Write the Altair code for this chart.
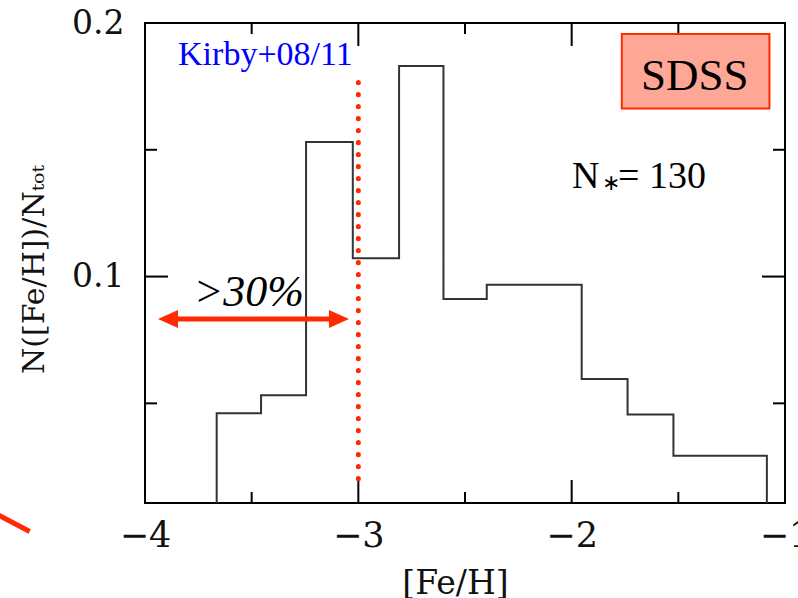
import altair as alt
import pandas as pd

# ---- data ----
bin_edges = [-3.664, -3.456, -3.245, -3.026, -2.809, -2.601, -2.398, -1.953, -1.738, -1.523, -1.085]
bin_heights = [0.0461, 0.0532, 0.1531, 0.1072, 0.1830, 0.0912, 0.0968, 0.0596, 0.0456, 0.0293]

x_domain = [-4, -1]
y_domain = [0.0107, 0.2]
x_label_values = [-4, -3, -2, -1]
y_label_values = [0.1, 0.2]
x_major_ticks = [-3, -2]
x_minor_ticks = [-3.5, -2.5, -1.5]
y_major_ticks = [0.1]
y_minor_ticks = [0.05, 0.15]

kirby_x = [-3.0]
kirby_y = [0.0203]
kirby_y2 = [0.1767]
arrow_x = [-3.939]
arrow_x2 = [-3.044]
arrow_y = [0.0833]
deco_x = [-4.727, -4.5405]
deco_y = [0.0077, -0.00055]
sdss_box_x = [-1.765]
sdss_box_x2 = [-1.073]
sdss_box_y = [0.1663]
sdss_box_y2 = [0.1957]

labels_text = ["Kirby+08/11", "SDSS", "N", "\u2217", "= 130", ">30%"]
labels_x = [-3.845, -1.423, -1.998, -1.8575, -1.7825, -3.772]
labels_y = [0.1833, 0.1734, 0.1351, 0.13415, 0.1351, 0.08855]

W, H = 640, 480
RED = "#ff2a00"

# ---- build tables ----
base = y_domain[0]
sx, sy = [bin_edges[0]], [base]
for i, h in enumerate(bin_heights):
    sx.append(bin_edges[i]); sy.append(h)
sx.append(bin_edges[-1]); sy.append(bin_heights[-1])
sx.append(bin_edges[-1]); sy.append(base)
step_df = pd.DataFrame({"x": sx, "y": sy, "o": list(range(len(sx)))})

xaxis = alt.Axis(values=x_label_values, format="d", ticks=False, tickSize=0, domain=False, grid=False,
                 labelFont="DejaVu Serif", labelFontSize=35, labelColor="#111", labelPadding=15,
                 labelOverlap=False, labelFlush=False, labelBound=False,
                 title="[Fe/H]", titleFont="DejaVu Serif", titleFontSize=33, titleFontWeight="normal",
                 titleColor="#111", titleX=310, titleY=90, titleBaseline="alphabetic", titleAlign="center")
yaxis = alt.Axis(values=y_label_values, format=".1f", ticks=False, tickSize=0, domain=False, grid=False,
                 labelFont="DejaVu Serif", labelFontSize=33, labelColor="#111", labelPadding=21,
                 labelOverlap=False, labelFlush=False, labelBound=False,
                 title="N([Fe/H])/N\u209c\u2092\u209c", titleFont="DejaVu Serif", titleFontSize=30,
                 titleFontWeight="normal", titleColor="#111", titleAngle=270,
                 titleX=-102, titleY=246, titleBaseline="alphabetic", titleAlign="center")

xs = alt.Scale(domain=x_domain, nice=False, zero=False)
ys = alt.Scale(domain=y_domain, nice=False, zero=False)

def X(f="x"):
    return alt.X(f + ":Q", scale=xs, axis=xaxis)

def Y(f="y"):
    return alt.Y(f + ":Q", scale=ys, axis=yaxis)

step = alt.Chart(step_df).mark_line(interpolate="step-after", color="#333", strokeWidth=2).encode(
    x=X(), y=Y(), order="o:Q")

# frame ticks (inward)
def xticks(vals, length):
    d = pd.DataFrame({"x": vals})
    top = alt.Chart(d).mark_rule(color="black", strokeWidth=2).encode(
        x=X(), y=alt.value(0), y2=alt.value(length))
    bot = alt.Chart(d).mark_rule(color="black", strokeWidth=2).encode(
        x=X(), y=alt.value(H), y2=alt.value(H - length))
    return [top, bot]

def yticks(vals, length):
    d = pd.DataFrame({"y": vals})
    left = alt.Chart(d).mark_rule(color="black", strokeWidth=2).encode(
        y=Y(), x=alt.value(0), x2=alt.value(length))
    right = alt.Chart(d).mark_rule(color="black", strokeWidth=2).encode(
        y=Y(), x=alt.value(W), x2=alt.value(W - length))
    return [left, right]

ticks = xticks(x_major_ticks, 23) + xticks(x_minor_ticks, 11) + yticks(y_major_ticks, 23) + yticks(y_minor_ticks, 12)

kirby = alt.Chart(pd.DataFrame({"x": kirby_x, "y": kirby_y, "y2": kirby_y2})).mark_rule(
    color=RED, strokeWidth=5, strokeDash=[0.1, 11.9], strokeCap="round").encode(
    x=X(), y=Y(), y2="y2:Q")

arrow_df = pd.DataFrame({"x": arrow_x, "x2": arrow_x2, "y": arrow_y})
shaft = alt.Chart(arrow_df).mark_rule(color=RED, strokeWidth=5, xOffset=12, x2Offset=-12).encode(
    x=X(), x2="x2:Q", y=Y())
head_l = alt.Chart(pd.DataFrame({"x": arrow_x, "y": arrow_y})).mark_point(
    shape="M0,0L2,-0.9L2,0.9Z", filled=True, size=400, color=RED, opacity=1, strokeWidth=0).encode(x=X(), y=Y())
head_r = alt.Chart(pd.DataFrame({"x": arrow_x2, "y": arrow_y})).mark_point(
    shape="M0,0L-2,-0.9L-2,0.9Z", filled=True, size=400, color=RED, opacity=1, strokeWidth=0).encode(x=X(), y=Y())

deco = alt.Chart(pd.DataFrame({"x": deco_x, "y": deco_y, "o": [0, 1]})).mark_line(
    color=RED, strokeWidth=5).encode(x=X(), y=Y(), order="o:Q")

box = alt.Chart(pd.DataFrame({"x": sdss_box_x, "x2": sdss_box_x2, "y": sdss_box_y, "y2": sdss_box_y2})).mark_rect(
    fill="#ffa797", stroke=RED, strokeWidth=2).encode(x=X(), x2="x2:Q", y=Y(), y2="y2:Q")

def txt(i, **kw):
    d = pd.DataFrame({"x": [labels_x[i]], "y": [labels_y[i]], "t": [labels_text[i]]})
    return alt.Chart(d).mark_text(font="Liberation Serif", baseline="alphabetic", **kw).encode(
        x=X(), y=Y(), text="t:N")

texts = [
    txt(0, align="left", fontSize=34, color="#0000ff"),
    txt(1, align="center", fontSize=45, color="black"),
    txt(2, align="left", fontSize=38, color="black"),
    txt(3, align="left", fontSize=22, color="black"),
    txt(4, align="left", fontSize=38, color="black"),
    txt(5, align="left", fontSize=44, fontStyle="italic", color="black"),
]

chart = alt.layer(step, *ticks, kirby, shaft, head_l, head_r, deco, box, *texts).properties(
    width=W, height=H,
    autosize=alt.AutoSizeParams(type="none"),
    padding={"left": 145, "top": 23, "right": 13, "bottom": 95},
    background="white",
).configure_view(stroke="black", strokeWidth=2)

chart.save("out.html", embed_options={"renderer": "svg", "actions": False})
